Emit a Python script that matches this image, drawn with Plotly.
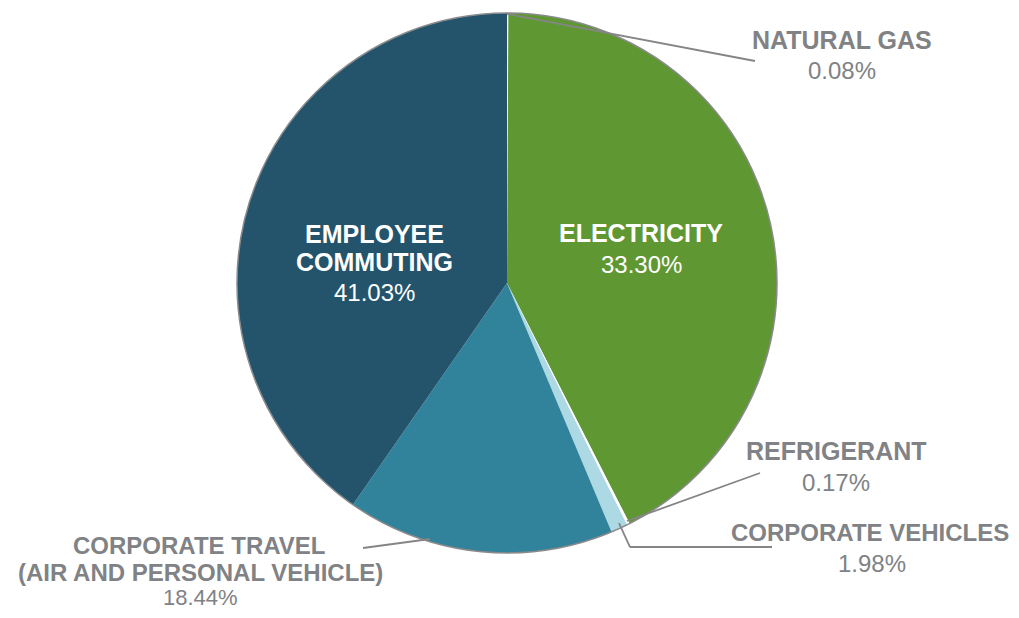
import plotly.graph_objects as go

# ── Canvas ────────────────────────────────────────────────────────────────
# the page body adds an 8px margin, so the figure is drawn 16px smaller
PAGE_W, PAGE_H = 1019, 618
PAD = 8
W, H = PAGE_W - 2 * PAD, PAGE_H - 2 * PAD
GREY = "#808285"
FONT = "Liberation Sans, Arial, sans-serif"

# ── Data ──────────────────────────────────────────────────────────────────
categories = ["NATURAL GAS", "ELECTRICITY", "REFRIGERANT",
              "CORPORATE VEHICLES", "CORPORATE TRAVEL", "EMPLOYEE COMMUTING"]
# slice sizes as drawn in the reference (angles)
slice_share = [0.08, 42.42, 0.17, 1.0, 16.0, 40.33]
pct_labels = ["0.08%", "33.30%", "0.17%", "1.98%", "18.44%", "41.03%"]
slice_colors = ["#ffffff", "#5f9733", "#ffffff", "#acd9e3", "#31829b", "#23546c"]


def fx(x):
    return (x - PAD) / W


def fy(y):
    return 1 - (y - PAD) / H


# pie centre / radius in page pixels
CX, CY, R = 507, 283, 270

fig = go.Figure()
fig.add_trace(go.Pie(
    labels=categories,
    values=slice_share,
    sort=False,
    direction="clockwise",
    rotation=0,
    marker=dict(colors=slice_colors, line=dict(width=0)),
    textinfo="none",
    hoverinfo="label",
    domain=dict(x=[fx(CX - R), fx(CX + R)], y=[fy(CY + R), fy(CY - R)]),
    showlegend=False,
))

# outer outline
shapes = [dict(type="circle", xref="paper", yref="paper",
               x0=fx(CX - R), x1=fx(CX + R), y0=fy(CY + R), y1=fy(CY - R),
               line=dict(color="#8a8a8c", width=1.5))]

# leader lines
leaders = [
    [(507, 14), (755, 61)],
    [(627, 521), (760, 473)],
    [(619, 523), (630, 547), (772, 547)],
    [(430, 539), (363, 548)],
]
for pts in leaders:
    for (x0, y0), (x1, y1) in zip(pts[:-1], pts[1:]):
        shapes.append(dict(type="line", xref="paper", yref="paper",
                           x0=fx(x0), y0=fy(y0), x1=fx(x1), y1=fy(y1),
                           line=dict(color="#858587", width=1.8)))

# label lines: (x, y, text, bold, size)
GREY_LBL = [
    (842, 40, "NATURAL GAS", True, 25), (842, 71, pct_labels[0], False, 24),
    (836, 451, "REFRIGERANT", True, 25), (836, 482, pct_labels[2], False, 24),
    (870, 532, "CORPORATE VEHICLES", True, 24), (872, 563, pct_labels[3], False, 24),
    (199, 545, "CORPORATE TRAVEL", True, 24),
    (200, 572, "(AIR AND PERSONAL VEHICLE)", True, 24),
    (200, 597, pct_labels[4], False, 22),
]
WHITE_LBL = [
    (641, 233, "ELECTRICITY", True, 25), (641, 264, pct_labels[1], False, 24),
    (374, 234, "EMPLOYEE", True, 25), (374, 262, "COMMUTING", True, 25),
    (374, 292, pct_labels[5], False, 24),
]

annotations = []
for lbls, color in ((GREY_LBL, GREY), (WHITE_LBL, "white")):
    for x, y, t, bold, size in lbls:
        annotations.append(dict(
            x=fx(x), y=fy(y), xref="paper", yref="paper",
            text=f"<b>{t}</b>" if bold else t,
            showarrow=False, xanchor="center", yanchor="middle",
            font=dict(family=FONT, size=size, color=color),
        ))

fig.update_layout(
    width=W, height=H,
    margin=dict(l=0, r=0, t=0, b=0),
    paper_bgcolor="white",
    plot_bgcolor="white",
    shapes=shapes,
    annotations=annotations,
    showlegend=False,
)

fig.write_html("out.html")
